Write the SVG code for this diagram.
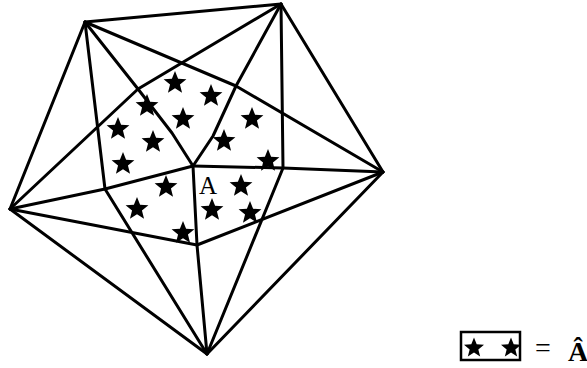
<svg xmlns="http://www.w3.org/2000/svg" width="587" height="368" viewBox="0 0 587 368">
<style>
.ln{fill:none;stroke:#000;stroke-width:3;stroke-linejoin:round;stroke-linecap:round}
.st{fill:#000}
.lbl{font-family:"Liberation Serif","Times New Roman",serif;fill:#000}
</style>
<defs>
<path id="star" d="M0,-12 L3.1,-4.2 L11.4,-3.7 L4.95,1.6 L7.05,9.7 L0,5.2 L-7.05,9.7 L-4.95,1.6 L-11.4,-3.7 L-3.1,-4.2 Z"/>
<path id="sstar" d="M0,-10.5 L2.7,-3.7 L10,-3.24 L4.33,1.4 L6.17,8.49 L0,4.55 L-6.17,8.49 L-4.33,1.4 L-10,-3.24 L-2.7,-3.7 Z"/>
</defs>
<rect width="587" height="368" fill="#fff"/>
<g id="connectors">
<polygon class="ln" points="85,22 281,4 383,172 207,354 10,209"/>
<polyline class="ln" points="85,22 138,89 172,133 193,166"/>
<polyline class="ln" points="281,4 236,86 213,136 193,166"/>
<polyline class="ln" points="383,172 283,168 193,166"/>
<polyline class="ln" points="207,354 197,245 193,166"/>
<polyline class="ln" points="10,209 105,189 193,166"/>
<polyline class="ln" points="85,22 105,189 207,354"/>
<polyline class="ln" points="281,4 283,168 207,354"/>
<polyline class="ln" points="10,209 197,245 383,172"/>
<polyline class="ln" points="281,4 138,89 10,209"/>
<polyline class="ln" points="85,22 236,86 383,172"/>
</g>
<g id="stars">
<use href="#star" class="st" x="175" y="83"/>
<use href="#star" class="st" x="211" y="96"/>
<use href="#star" class="st" x="147" y="106"/>
<use href="#star" class="st" x="183" y="119"/>
<use href="#star" class="st" x="252" y="119"/>
<use href="#star" class="st" x="118" y="129"/>
<use href="#star" class="st" x="153" y="142"/>
<use href="#star" class="st" x="224" y="141"/>
<use href="#star" class="st" x="123" y="164"/>
<use href="#star" class="st" x="268" y="161"/>
<use href="#star" class="st" x="166" y="187"/>
<use href="#star" class="st" x="241" y="186"/>
<use href="#star" class="st" x="137" y="209"/>
<use href="#star" class="st" x="212" y="210"/>
<use href="#star" class="st" x="250" y="213"/>
<use href="#star" class="st" x="183" y="233"/>
</g>
<g id="label-A">
<text class="lbl" x="208" y="194" font-size="25" text-anchor="middle">A</text>
</g>
<g id="legend">
<rect x="461" y="332" width="59" height="28" fill="none" stroke="#000" stroke-width="2.5"/>
<use href="#sstar" class="st" x="474" y="348"/>
<use href="#sstar" class="st" x="511" y="348"/>
<text class="lbl" x="543" y="357" font-size="28" text-anchor="middle">=</text>
<text class="lbl" x="578" y="361" font-size="28" font-weight="bold" text-anchor="middle">Â</text>
</g>
</svg>
